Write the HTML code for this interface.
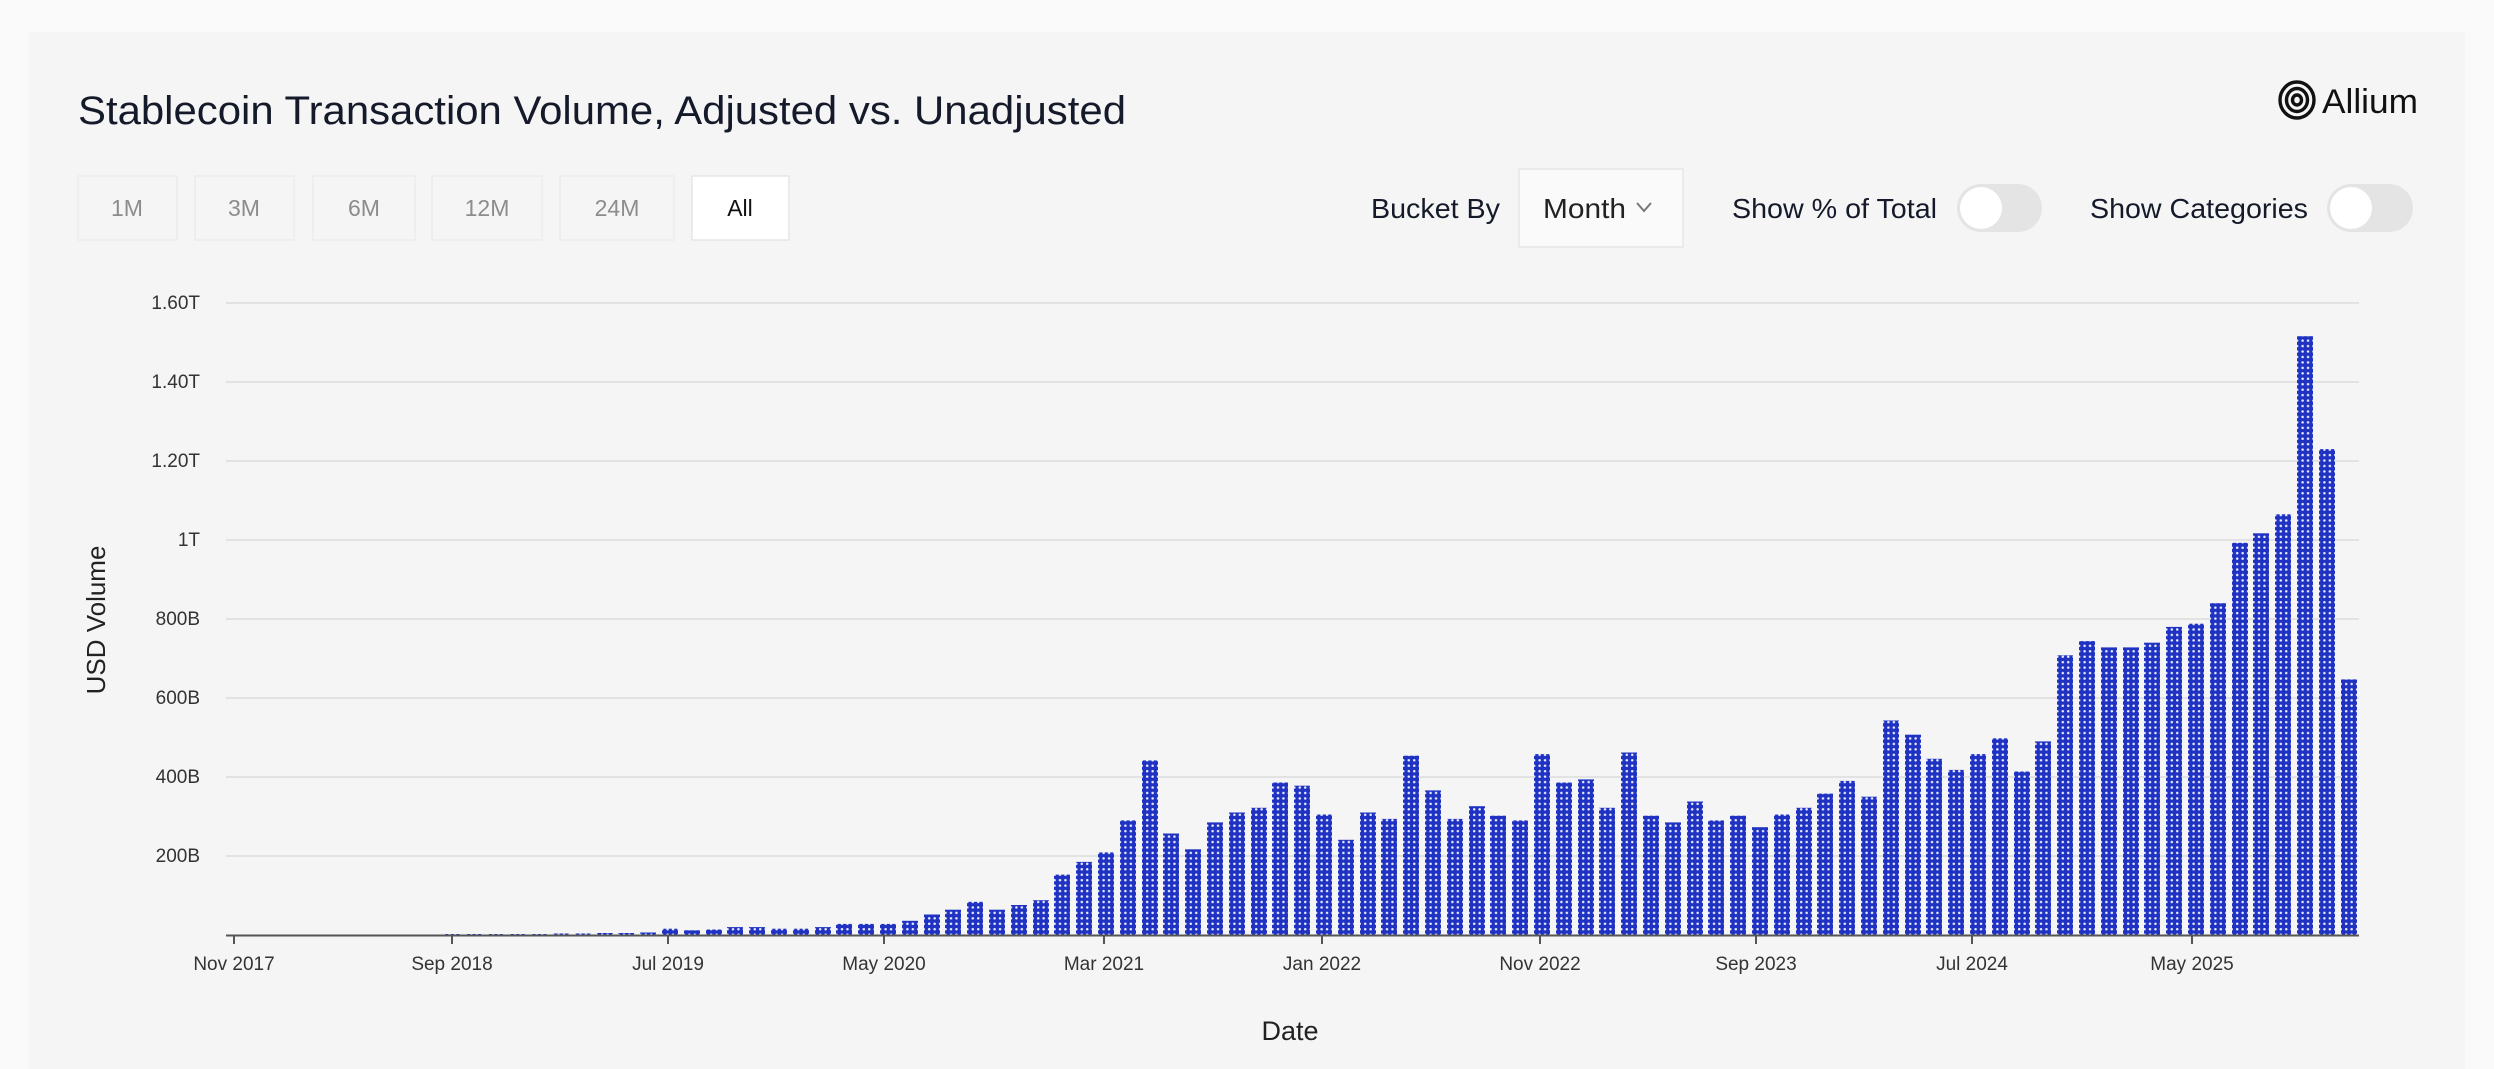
<!DOCTYPE html>
<html><head><meta charset="utf-8"><style>
html,body{margin:0;padding:0;background:#fafafa;}
svg{display:block;}
</style></head><body>
<svg width="2494" height="1069" viewBox="0 0 2494 1069" xmlns="http://www.w3.org/2000/svg" font-family="Liberation Sans, Arial, sans-serif">
<defs>
<pattern id="dots" patternUnits="userSpaceOnUse" x="0" y="0" width="5.45" height="5.45">
<rect width="5.45" height="5.45" fill="#1f32c2"/>
<circle cx="2.7" cy="2.7" r="1.25" fill="#e8ecff"/>
</pattern>
</defs>
<rect x="0" y="0" width="2494" height="1069" fill="#fafafa"/>
<rect x="29" y="32" width="2436" height="1037" fill="#f5f5f5"/>
<text x="78" y="124" font-size="40" fill="#151a2a" textLength="1048" lengthAdjust="spacingAndGlyphs">Stablecoin Transaction Volume, Adjusted vs. Unadjusted</text>
<g fill="none" stroke="#111" stroke-width="3.4">
<ellipse cx="2297" cy="100" rx="17" ry="18"/>
<ellipse cx="2297" cy="100" rx="10.5" ry="11.5"/>
<ellipse cx="2297" cy="100" rx="4.5" ry="5"/>
</g>
<text x="2322" y="113" font-size="34" fill="#111" textLength="96" lengthAdjust="spacingAndGlyphs">Allium</text>
<g font-size="23" fill="#8c8c8c" text-anchor="middle">
<rect x="78" y="176" width="99" height="64" fill="#f5f5f5" stroke="#ebebeb" stroke-width="1.5"/>
<text x="127" y="216">1M</text>
<rect x="195" y="176" width="99" height="64" fill="#f5f5f5" stroke="#ebebeb" stroke-width="1.5"/>
<text x="244" y="216">3M</text>
<rect x="313" y="176" width="102" height="64" fill="#f5f5f5" stroke="#ebebeb" stroke-width="1.5"/>
<text x="364" y="216">6M</text>
<rect x="432" y="176" width="110" height="64" fill="#f5f5f5" stroke="#ebebeb" stroke-width="1.5"/>
<text x="487" y="216">12M</text>
<rect x="560" y="176" width="114" height="64" fill="#f5f5f5" stroke="#ebebeb" stroke-width="1.5"/>
<text x="617" y="216">24M</text>
<rect x="692" y="176" width="97" height="64" fill="#ffffff" stroke="#e6e6e6" stroke-width="1.5"/>
<text x="740" y="216" fill="#111">All</text>
</g>
<text x="1371" y="218" font-size="28" fill="#151a2a" textLength="129" lengthAdjust="spacingAndGlyphs">Bucket By</text>
<rect x="1519" y="169" width="164" height="78" fill="#fafafa" stroke="#e6e6e6" stroke-width="1.5"/>
<text x="1543" y="218" font-size="28" fill="#222" textLength="83" lengthAdjust="spacingAndGlyphs">Month</text>
<polyline points="1637,203 1644,211 1651,203" fill="none" stroke="#777" stroke-width="2"/>
<text x="1732" y="218" font-size="28" fill="#151a2a" textLength="205" lengthAdjust="spacingAndGlyphs">Show % of Total</text>
<rect x="1957" y="184" width="85" height="48" rx="24" fill="#e4e4e4"/>
<circle cx="1981" cy="208" r="21" fill="#fff"/>
<text x="2090" y="218" font-size="28" fill="#151a2a" textLength="218" lengthAdjust="spacingAndGlyphs">Show Categories</text>
<rect x="2327" y="184" width="86" height="48" rx="24" fill="#e4e4e4"/>
<circle cx="2351" cy="208" r="21" fill="#fff"/>
<g stroke="#e2e2e2" stroke-width="2">
<line x1="226" y1="303" x2="2359" y2="303"/>
<line x1="226" y1="382" x2="2359" y2="382"/>
<line x1="226" y1="461" x2="2359" y2="461"/>
<line x1="226" y1="540" x2="2359" y2="540"/>
<line x1="226" y1="619" x2="2359" y2="619"/>
<line x1="226" y1="698" x2="2359" y2="698"/>
<line x1="226" y1="777" x2="2359" y2="777"/>
<line x1="226" y1="856" x2="2359" y2="856"/>
</g>
<g font-size="19" fill="#333" text-anchor="end">
<text x="200" y="309">1.60T</text>
<text x="200" y="388">1.40T</text>
<text x="200" y="467">1.20T</text>
<text x="200" y="546">1T</text>
<text x="200" y="625">800B</text>
<text x="200" y="704">600B</text>
<text x="200" y="783">400B</text>
<text x="200" y="862">200B</text>
</g>
<text transform="translate(105,620) rotate(-90)" font-size="26" fill="#222" text-anchor="middle">USD Volume</text>
<g fill="url(#dots)">
<rect x="444" y="934" width="16" height="1"/>
<rect x="466" y="934" width="16" height="1"/>
<rect x="488" y="934" width="16" height="1"/>
<rect x="509" y="934" width="16" height="1"/>
<rect x="531" y="934" width="16" height="1"/>
<rect x="553" y="933.5" width="16" height="1.5"/>
<rect x="575" y="933.5" width="16" height="1.5"/>
<rect x="597" y="933" width="16" height="2"/>
<rect x="618" y="933" width="16" height="2"/>
<rect x="640" y="932.5" width="16" height="2.5"/>
<rect x="662" y="928.7" width="16" height="6.3"/>
<rect x="684" y="930.3" width="16" height="4.7"/>
<rect x="706" y="929.5" width="16" height="5.5"/>
<rect x="727" y="927.1" width="16" height="7.9"/>
<rect x="749" y="927.1" width="16" height="7.9"/>
<rect x="771" y="928.7" width="16" height="6.3"/>
<rect x="793" y="928.7" width="16" height="6.3"/>
<rect x="815" y="927.1" width="16" height="7.9"/>
<rect x="836" y="923.9" width="16" height="11.1"/>
<rect x="858" y="923.9" width="16" height="11.1"/>
<rect x="880" y="923.9" width="16" height="11.1"/>
<rect x="902" y="920.8" width="16" height="14.2"/>
<rect x="924" y="914.5" width="16" height="20.5"/>
<rect x="945" y="909.7" width="16" height="25.3"/>
<rect x="967" y="901.8" width="16" height="33.2"/>
<rect x="989" y="909.7" width="16" height="25.3"/>
<rect x="1011" y="905" width="16" height="30"/>
<rect x="1033" y="900.2" width="16" height="34.8"/>
<rect x="1054" y="874.6" width="16" height="60.4"/>
<rect x="1076" y="861.9" width="16" height="73.1"/>
<rect x="1098" y="852.4" width="16" height="82.6"/>
<rect x="1120" y="820.4" width="16" height="114.6"/>
<rect x="1142" y="760.4" width="16" height="174.6"/>
<rect x="1163" y="833.5" width="16" height="101.5"/>
<rect x="1185" y="849.3" width="16" height="85.7"/>
<rect x="1207" y="822.4" width="16" height="112.6"/>
<rect x="1229" y="812.5" width="16" height="122.5"/>
<rect x="1251" y="807.8" width="16" height="127.2"/>
<rect x="1272" y="782.5" width="16" height="152.5"/>
<rect x="1294" y="785.7" width="16" height="149.3"/>
<rect x="1316" y="814.5" width="16" height="120.5"/>
<rect x="1338" y="839.8" width="16" height="95.2"/>
<rect x="1360" y="812.5" width="16" height="122.5"/>
<rect x="1381" y="818.9" width="16" height="116.1"/>
<rect x="1403" y="755.7" width="16" height="179.3"/>
<rect x="1425" y="790.4" width="16" height="144.6"/>
<rect x="1447" y="818.9" width="16" height="116.1"/>
<rect x="1469" y="806.2" width="16" height="128.8"/>
<rect x="1490" y="815.7" width="16" height="119.3"/>
<rect x="1512" y="820.4" width="16" height="114.6"/>
<rect x="1534" y="754.1" width="16" height="180.9"/>
<rect x="1556" y="782.5" width="16" height="152.5"/>
<rect x="1578" y="779.4" width="16" height="155.6"/>
<rect x="1599" y="807.8" width="16" height="127.2"/>
<rect x="1621" y="752.5" width="16" height="182.5"/>
<rect x="1643" y="815.7" width="16" height="119.3"/>
<rect x="1665" y="822.4" width="16" height="112.6"/>
<rect x="1687" y="801.5" width="16" height="133.5"/>
<rect x="1708" y="820.4" width="16" height="114.6"/>
<rect x="1730" y="815.7" width="16" height="119.3"/>
<rect x="1752" y="827.2" width="16" height="107.8"/>
<rect x="1774" y="814.5" width="16" height="120.5"/>
<rect x="1796" y="807.8" width="16" height="127.2"/>
<rect x="1817" y="793.6" width="16" height="141.4"/>
<rect x="1839" y="780.9" width="16" height="154.1"/>
<rect x="1861" y="796.7" width="16" height="138.3"/>
<rect x="1883" y="720.5" width="16" height="214.5"/>
<rect x="1905" y="734.7" width="16" height="200.3"/>
<rect x="1926" y="758.8" width="16" height="176.2"/>
<rect x="1948" y="769.9" width="16" height="165.1"/>
<rect x="1970" y="754.1" width="16" height="180.9"/>
<rect x="1992" y="738.3" width="16" height="196.7"/>
<rect x="2014" y="771.5" width="16" height="163.5"/>
<rect x="2035" y="741.4" width="16" height="193.6"/>
<rect x="2057" y="655.3" width="16" height="279.7"/>
<rect x="2079" y="641.1" width="16" height="293.9"/>
<rect x="2101" y="647.4" width="16" height="287.6"/>
<rect x="2123" y="647.4" width="16" height="287.6"/>
<rect x="2144" y="642.7" width="16" height="292.3"/>
<rect x="2166" y="626.9" width="16" height="308.1"/>
<rect x="2188" y="623.7" width="16" height="311.3"/>
<rect x="2210" y="603.2" width="16" height="331.8"/>
<rect x="2232" y="542.8" width="16" height="392.2"/>
<rect x="2253" y="533.3" width="16" height="401.7"/>
<rect x="2275" y="514.3" width="16" height="420.7"/>
<rect x="2297" y="336.2" width="16" height="598.8"/>
<rect x="2319" y="449.1" width="16" height="485.9"/>
<rect x="2341" y="679.4" width="16" height="255.6"/>
</g>
<line x1="226" y1="935.5" x2="2359" y2="935.5" stroke="#555" stroke-width="2"/>
<g stroke="#555" stroke-width="2">
<line x1="234" y1="935" x2="234" y2="944"/>
<line x1="452" y1="935" x2="452" y2="944"/>
<line x1="668" y1="935" x2="668" y2="944"/>
<line x1="884" y1="935" x2="884" y2="944"/>
<line x1="1104" y1="935" x2="1104" y2="944"/>
<line x1="1322" y1="935" x2="1322" y2="944"/>
<line x1="1540" y1="935" x2="1540" y2="944"/>
<line x1="1756" y1="935" x2="1756" y2="944"/>
<line x1="1972" y1="935" x2="1972" y2="944"/>
<line x1="2192" y1="935" x2="2192" y2="944"/>
</g>
<g font-size="19" fill="#333" text-anchor="middle">
<text x="234" y="970">Nov 2017</text>
<text x="452" y="970">Sep 2018</text>
<text x="668" y="970">Jul 2019</text>
<text x="884" y="970">May 2020</text>
<text x="1104" y="970">Mar 2021</text>
<text x="1322" y="970">Jan 2022</text>
<text x="1540" y="970">Nov 2022</text>
<text x="1756" y="970">Sep 2023</text>
<text x="1972" y="970">Jul 2024</text>
<text x="2192" y="970">May 2025</text>
</g>
<text x="1290" y="1040" font-size="27" fill="#222" text-anchor="middle">Date</text>
</svg>
</body></html>
